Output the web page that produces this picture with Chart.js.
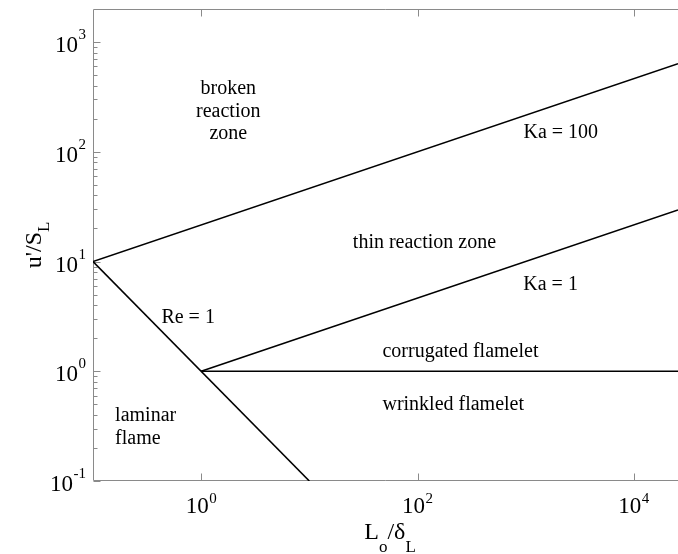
<!DOCTYPE html>
<html>
<head>
<meta charset="utf-8">
<script src="https://cdn.jsdelivr.net/npm/chart.js@4/dist/chart.umd.min.js"></script>
<style>
  html, body { margin: 0; padding: 0; background: #fff; }
  #wrap { width: 678px; height: 554px; position: relative; }
</style>
</head>
<body>
<div id="wrap"><canvas id="c"></canvas></div>
<script>
// Combustion regime boundaries, endpoints on log-log axes
const ka100X = [0.1, 25600];
const ka100Y = [10, 635];
const ka1X = [1, 25600];
const ka1Y = [1, 29.5];
const re1X = [0.1, 10];
const re1Y = [10, 0.1];
const flameletX = [1, 25600];
const flameletY = [1, 1];

// Axis ticks (value and exponent text)
const xTicks = [1, 100, 10000];
const xTickExp = ['0', '2', '4'];
const yTicks = [0.1, 1, 10, 100, 1000];
const yTickExp = ['-1', '0', '1', '2', '3'];

// Regime names, anchored in data coordinates
const regionText = [
  ['broken', 'reaction', 'zone'],
  ['Ka = 100'],
  ['thin reaction zone'],
  ['Ka = 1'],
  ['Re = 1'],
  ['corrugated flamelet'],
  ['wrinkled flamelet'],
  ['laminar', 'flame']
];
const regionX = [1.78, 2110, 116, 1700, 0.758, 47.4, 47.4, 0.16];
const regionY = [233, 149, 14.8, 6.12, 3.06, 1.50, 0.493, 0.308];
const regionAlign = ['center', 'center', 'center', 'center', 'center', 'left', 'left', 'left'];

const SERIF = "'Liberation Serif', 'Times New Roman', serif";

function pts(xs, ys) { return xs.map((v, i) => ({ x: v, y: ys[i] })); }

function boundary(xs, ys) {
  return {
    data: pts(xs, ys),
    showLine: true,
    borderColor: '#000',
    borderWidth: 1.6,
    pointRadius: 0,
    tension: 0,
    fill: false
  };
}

// Draw "10" with a raised exponent; returns nothing
function powLabel(ctx, exp, left, baseY, supY) {
  ctx.font = '23px ' + SERIF;
  ctx.textAlign = 'left';
  ctx.textBaseline = 'alphabetic';
  ctx.fillText('10', left, baseY);
  const wb = ctx.measureText('10').width;
  ctx.font = '15px ' + SERIF;
  ctx.fillText(exp, left + wb + 0.5, supY);
}
function powWidth(ctx, exp) {
  ctx.font = '23px ' + SERIF;
  const wb = ctx.measureText('10').width;
  ctx.font = '15px ' + SERIF;
  return wb + 0.5 + ctx.measureText(exp).width;
}

// Text made of [string, isSubscript] pieces, centred on cx
function drawPieces(ctx, pieces, cx, baseY, mainPx, subPx, subDrop) {
  let total = 0;
  pieces.forEach(p => {
    ctx.font = (p[1] ? subPx : mainPx) + 'px ' + SERIF;
    total += ctx.measureText(p[0]).width;
  });
  let x = cx - total / 2;
  ctx.textAlign = 'left';
  ctx.textBaseline = 'alphabetic';
  pieces.forEach(p => {
    ctx.font = (p[1] ? subPx : mainPx) + 'px ' + SERIF;
    ctx.fillText(p[0], x, baseY + (p[1] ? subDrop : 0));
    x += ctx.measureText(p[0]).width;
  });
}

const framePlugin = {
  id: 'frame',
  beforeDatasetsDraw(chart) {
    const { ctx, chartArea: a, scales: { x, y } } = chart;
    ctx.save();
    ctx.strokeStyle = '#8a8a8a';
    ctx.lineWidth = 1;
    ctx.beginPath();
    const L = a.left + 0.5, T = a.top + 0.5, B = a.bottom - 0.5;
    ctx.moveTo(a.right, T); ctx.lineTo(L, T); ctx.lineTo(L, B); ctx.lineTo(a.right, B);
    // y: major and minor log ticks, pointing inward
    for (let d = -1; d <= 3; d++) {
      for (let m = 1; m <= 9; m++) {
        const v = m * Math.pow(10, d);
        if (v >= y.max) break;
        const py = Math.round(y.getPixelForValue(v)) + 0.5;
        const len = m === 1 ? 7 : 4;
        ctx.moveTo(L, py); ctx.lineTo(L + len, py);
      }
    }
    // x: major ticks on bottom and top
    xTicks.forEach(v => {
      const px = Math.round(x.getPixelForValue(v)) + 0.5;
      ctx.moveTo(px, B); ctx.lineTo(px, B - 7);
      ctx.moveTo(px, T); ctx.lineTo(px, T + 7);
    });
    ctx.stroke();
    ctx.restore();
  },
  afterDraw(chart) {
    const { ctx, chartArea: a, scales: { x, y } } = chart;
    ctx.save();
    ctx.fillStyle = '#000';

    // tick labels
    yTicks.forEach((v, i) => {
      const py = y.getPixelForValue(v);
      const w = powWidth(ctx, yTickExp[i]);
      powLabel(ctx, yTickExp[i], 86 - w, py + 10, py - 3);
    });
    xTicks.forEach((v, i) => {
      const px = x.getPixelForValue(v);
      const w = powWidth(ctx, xTickExp[i]);
      powLabel(ctx, xTickExp[i], px - w / 2, a.bottom + 32, a.bottom + 22);
    });

    // axis titles
    drawPieces(ctx, [['L', false], ['o', true], ['/\u03B4', false], ['L', true]], 390, 539, 24, 17, 13);
    ctx.save();
    ctx.translate(41, (a.top + a.bottom) / 2);
    ctx.rotate(-Math.PI / 2);
    drawPieces(ctx, [["u'/S", false], ['L', true]], 0, 0, 24, 17, 8);
    ctx.restore();

    // regime names
    ctx.font = '20px ' + SERIF;
    ctx.textBaseline = 'middle';
    const lh = 22.5;
    regionText.forEach((lines, i) => {
      const px = x.getPixelForValue(regionX[i]);
      const py = y.getPixelForValue(regionY[i]);
      ctx.textAlign = regionAlign[i];
      const y0 = py - (lines.length - 1) * lh / 2;
      lines.forEach((t, j) => ctx.fillText(t, px, y0 + j * lh));
    });
    ctx.restore();
  }
};

new Chart(document.getElementById('c'), {
  type: 'scatter',
  data: {
    datasets: [
      boundary(ka100X, ka100Y),
      boundary(ka1X, ka1Y),
      boundary(re1X, re1Y),
      boundary(flameletX, flameletY)
    ]
  },
  options: {
    responsive: true,
    maintainAspectRatio: false,
    animation: false,
    layout: { padding: { top: 9, right: 0, bottom: 0, left: 0 } },
    plugins: { legend: { display: false }, tooltip: { enabled: false } },
    scales: {
      x: {
        type: 'logarithmic',
        min: 0.1,
        max: 25600,
        grid: { display: false },
        border: { display: false },
        ticks: { display: false },
        afterFit(s) { s.height = 73; }
      },
      y: {
        type: 'logarithmic',
        min: 0.1,
        max: 2000,
        grid: { display: false },
        border: { display: false },
        ticks: { display: false },
        afterFit(s) { s.width = 93; }
      }
    }
  },
  plugins: [framePlugin]
});
</script>
</body>
</html>
